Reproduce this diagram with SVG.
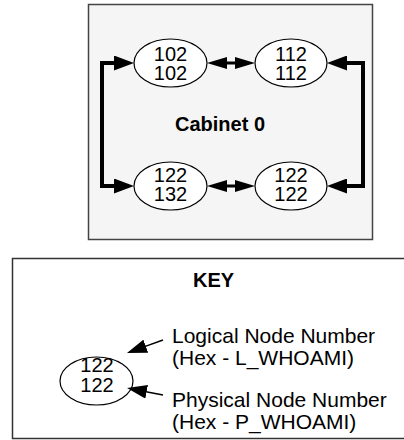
<svg xmlns="http://www.w3.org/2000/svg" width="404" height="440" viewBox="0 0 404 440">
<style>
.box{fill:#f5f5f5;stroke:#444;stroke-width:1.5}
.key{fill:#fff;stroke:#333;stroke-width:1.5}
.node{fill:#fff;stroke:#000;stroke-width:1.2}
.num{font-family:"Liberation Sans",Arial,sans-serif;font-size:20px;text-anchor:middle;fill:#000}
.lbl{font-family:"Liberation Sans",Arial,sans-serif;font-size:21px;fill:#000}
.bold{font-family:"Liberation Sans",Arial,sans-serif;font-size:20px;font-weight:bold;fill:#000}
.thick{fill:none;stroke:#000;stroke-width:4;marker-start:url(#ah);marker-end:url(#ah)}
.mid{fill:none;stroke:#000;stroke-width:3;marker-start:url(#ahs);marker-end:url(#ahs)}
.thin{fill:none;stroke:#000;stroke-width:1.5;marker-end:url(#ahk)}
</style>
<defs>
<marker id="ah" markerUnits="userSpaceOnUse" viewBox="0 -7.5 20 15" refX="2" refY="0" markerWidth="20" markerHeight="15" orient="auto-start-reverse"><path d="M0,-7.5 L20,0 L0,7.5 z" fill="#000"/></marker>
<marker id="ahs" markerUnits="userSpaceOnUse" viewBox="0 -6 20 12" refX="2" refY="0" markerWidth="20" markerHeight="12" orient="auto-start-reverse"><path d="M0,-6 L20,0 L0,6 z" fill="#000"/></marker>
<marker id="ahk" markerUnits="userSpaceOnUse" viewBox="0 -7 20 14" refX="2" refY="0" markerWidth="20" markerHeight="14" orient="auto"><path d="M0,-7 L20,0 L0,7 z" fill="#000"/></marker>
</defs>
<g id="cabinet">
<rect class="box" x="88.5" y="4.5" width="284" height="235"/>
<text class="bold" x="175" y="131">Cabinet 0</text>
</g>
<g id="connectors">
<path class="thick" d="M116,63 H102 V186 H116"/>
<path class="thick" d="M345,63 H363 V186 H345"/>
<path class="mid" d="M225,63 H237"/>
<path class="mid" d="M225,186 H237"/>
</g>
<g id="n102">
<ellipse class="node" cx="170.5" cy="63" rx="36.5" ry="24"/>
<text class="num" x="170.5" y="61">102</text>
<text class="num" x="170.5" y="80">102</text>
</g>
<g id="n112">
<ellipse class="node" cx="291" cy="63" rx="36" ry="24"/>
<text class="num" x="291" y="61">112</text>
<text class="num" x="291" y="80">112</text>
</g>
<g id="n122a">
<ellipse class="node" cx="170.5" cy="186" rx="36.5" ry="24"/>
<text class="num" x="170.5" y="182">122</text>
<text class="num" x="170.5" y="201">132</text>
</g>
<g id="n122b">
<ellipse class="node" cx="291" cy="186" rx="36" ry="24"/>
<text class="num" x="291" y="182">122</text>
<text class="num" x="291" y="201">122</text>
</g>
<g id="keybox">
<rect class="key" x="12.5" y="258.5" width="400" height="180"/>
<text class="bold" x="193" y="287">KEY</text>
</g>
<g id="keynode">
<ellipse class="node" cx="96.5" cy="381" rx="36.5" ry="24"/>
<text class="num" x="97" y="372">122</text>
<text class="num" x="97" y="392">122</text>
</g>
<g id="keyarrows">
<path class="thin" d="M163,340 L143.9,346.9"/>
<path class="thin" d="M163,395 L144.7,391.4"/>
</g>
<g id="keylabels">
<text class="lbl" x="172" y="343">Logical Node Number</text>
<text class="lbl" x="172" y="365">(Hex - L_WHOAMI)</text>
<text class="lbl" x="172" y="407">Physical Node Number</text>
<text class="lbl" x="172" y="429">(Hex - P_WHOAMI)</text>
</g>
</svg>
